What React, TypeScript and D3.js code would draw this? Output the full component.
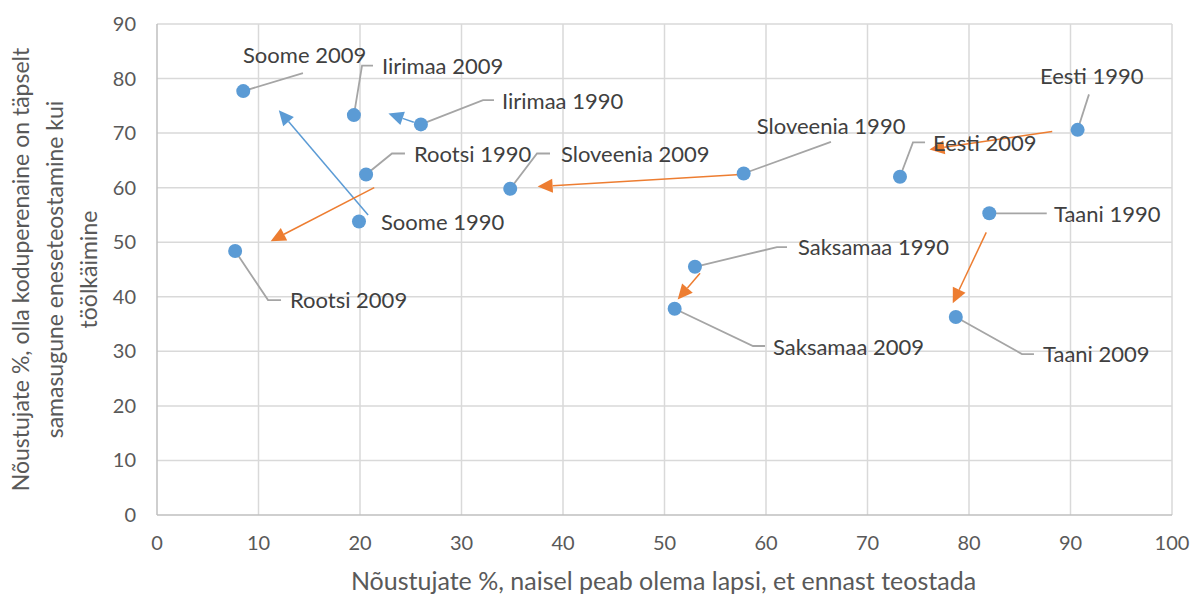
import React, { useEffect, useRef } from 'react'
import * as d3 from 'd3'

// data (x: % agree "woman needs children", y: % agree "housewife as fulfilling as work")
const pointLabels = ['Soome 2009','Iirimaa 2009','Iirimaa 1990','Rootsi 1990','Sloveenia 2009','Soome 1990','Rootsi 2009',
  'Sloveenia 1990','Eesti 2009','Eesti 1990','Taani 1990','Saksamaa 1990','Saksamaa 2009','Taani 2009']
const pointX = [8.5, 19.4, 26.0, 20.6, 34.8, 19.9, 7.7, 57.8, 73.2, 90.7, 82.0, 53.0, 51.0, 78.7]
const pointY = [77.7, 73.3, 71.6, 62.4, 59.8, 53.8, 48.4, 62.6, 62.0, 70.6, 55.3, 45.5, 37.8, 36.3]

// change arrows 1990 -> 2009 (drawn in chart units)
const arrowCountry = ['Soome','Iirimaa','Rootsi','Sloveenia','Eesti','Saksamaa','Taani']
const arrowFromX = [20.8, 25.3, 21.4, 57.5, 88.2, 53.5, 81.7]
const arrowFromY = [55.0, 72.0, 60.0, 62.4, 70.3, 44.3, 51.8]
const arrowToX = [12.0, 22.8, 11.2, 37.5, 76.1, 51.3, 78.4]
const arrowToY = [74.2, 73.6, 50.2, 60.2, 67.0, 39.5, 38.8]
const arrowKind = ['up','up','down','down','down','down','down']

const xTicks = [0,10,20,30,40,50,60,70,80,90,100]
const yTicks = [0,10,20,30,40,50,60,70,80,90]

// label placement in chart units: text anchor + leader elbows
const labelAt: [number, number][] = [
  [8.47,84.3],[22.17,82.3],[33.99,75.88],[25.32,66.17],[39.8,66.17],[22.07,53.7],[13.1,39.4],
  [59.1,71.3],[76.45,68.2],[87.0,80.5],[88.37,55.1],[63.15,49.1],[60.69,30.8],[87.29,29.5]
]
const leaders: [number, number][][] = [
  [[14.38,81.0]],
  [[20.2,82.36],[21.28,82.36]],
  [[32.12,76.06],[33.2,76.06]],
  [[23.15,66.26],[24.43,66.26]],
  [[37.44,66.26],[38.72,66.26]],
  [],
  [[10.94,39.4],[12.22,39.4]],
  [[66.4,68.4]],
  [[74.48,68.3],[75.67,68.3]],
  [[91.82,77.1]],
  [[87.66,55.3]],
  [[61.08,49.1],[62.07,49.1]],
  [[58.72,30.98],[59.9,30.98]],
  [[85.22,29.5],[86.4,29.5]]
]

export default function App(){
  const svgRef = useRef<SVGSVGElement>(null)

  useEffect(()=>{
    const width = 1190, height = 599
    const m = {top:24, right:18, bottom:84, left:157}
    const svg = d3.select(svgRef.current)
    svg.selectAll('*').remove()
    const font = 'Lato, "Open Sans", sans-serif'
    const textCol = '#595959'

    const x = d3.scaleLinear().domain([0,100]).range([m.left, width - m.right])
    const y = d3.scaleLinear().domain([0,90]).range([height - m.bottom, m.top])

    // grid
    const grid = svg.append('g')
    grid.selectAll('line.h').data(yTicks.filter(d=>d>0)).join('line')
      .attr('x1', x(0)).attr('x2', x(100)).attr('y1', d=>y(d)).attr('y2', d=>y(d))
      .attr('stroke','#d9d9d9').attr('stroke-width',1.5)
    grid.selectAll('line.v').data(xTicks.filter(d=>d>0)).join('line')
      .attr('y1', y(0)).attr('y2', y(90)).attr('x1', d=>x(d)).attr('x2', d=>x(d))
      .attr('stroke','#d9d9d9').attr('stroke-width',1.5)
    // axis lines
    svg.append('line').attr('x1',x(0)).attr('x2',x(100)).attr('y1',y(0)).attr('y2',y(0))
      .attr('stroke','#bfbfbf').attr('stroke-width',1.5)
    svg.append('line').attr('x1',x(0)).attr('x2',x(0)).attr('y1',y(0)).attr('y2',y(90))
      .attr('stroke','#bfbfbf').attr('stroke-width',1.5)

    // tick labels
    svg.append('g').selectAll('text').data(xTicks).join('text')
      .attr('x', d=>x(d)).attr('y', y(0) + 35)
      .attr('text-anchor','middle').attr('font-family',font).attr('font-size',20).attr('fill',textCol)
      .text(d=>d)
    svg.append('g').selectAll('text').data(yTicks).join('text')
      .attr('x', x(0) - 21).attr('y', d=>y(d)).attr('dy','0.35em')
      .attr('text-anchor','end').attr('font-family',font).attr('font-size',20).attr('fill',textCol)
      .text(d=>d)

    // axis titles
    svg.append('text')
      .attr('x', 663.5).attr('y', 590)
      .attr('text-anchor','middle').attr('font-family',font).attr('font-size',25).attr('fill',textCol)
      .text('Nõustujate %, naisel peab olema lapsi, et ennast teostada')
    const yt = svg.append('text')
      .attr('transform',`translate(0,${(y(0)+y(90))/2}) rotate(-90)`)
      .attr('text-anchor','middle').attr('font-family',font).attr('font-size',23).attr('fill',textCol)
    ;['Nõustujate %, olla koduperenaine on täpselt','samasugune eneseteostamine kui','töölkäimine']
      .forEach((t,i)=>yt.append('tspan').attr('x',0).attr('y', 29 + i*34).text(t))

    // arrows
    const arr = svg.append('g')
    arrowCountry.forEach((c,i)=>{
      const col = arrowKind[i]==='up' ? '#5b9bd5' : '#ed7d31'
      const x1 = x(arrowFromX[i]), y1 = y(arrowFromY[i]), x2 = x(arrowToX[i]), y2 = y(arrowToY[i])
      const ang = Math.atan2(y2-y1, x2-x1)
      const len = 15, hw = 7
      const bx = x2 - len*Math.cos(ang), by = y2 - len*Math.sin(ang)
      arr.append('line').attr('x1',x1).attr('y1',y1).attr('x2',bx).attr('y2',by)
        .attr('stroke',col).attr('stroke-width',1.5)
      const p = d3.path()
      p.moveTo(x2,y2)
      p.lineTo(bx + hw*Math.sin(ang), by - hw*Math.cos(ang))
      p.lineTo(bx - hw*Math.sin(ang), by + hw*Math.cos(ang))
      p.closePath()
      arr.append('path').attr('d',p.toString()).attr('fill',col)
    })

    // leader lines
    const lead = svg.append('g')
    pointLabels.forEach((_,i)=>{
      if(!leaders[i].length) return
      const pts: [number,number][] = [[x(pointX[i]), y(pointY[i])], ...leaders[i].map(([a,b])=>[x(a),y(b)] as [number,number])]
      lead.append('path').attr('d', d3.line()(pts)).attr('fill','none')
        .attr('stroke','#a5a5a5').attr('stroke-width',1.8)
    })

    // points
    svg.append('g').selectAll('circle').data(pointLabels).join('circle')
      .attr('cx', (_,i)=>x(pointX[i])).attr('cy', (_,i)=>y(pointY[i])).attr('r', 7)
      .attr('fill','#5b9bd5')

    // labels
    svg.append('g').selectAll('text').data(pointLabels).join('text')
      .attr('x', (_,i)=>x(labelAt[i][0])).attr('y', (_,i)=>y(labelAt[i][1])).attr('dy','0.35em')
      .attr('font-family',font).attr('font-size',22).attr('fill','#404040')
      .text(d=>d)
  },[])

  return (
    <svg ref={svgRef} width={1190} height={599}
      style={{position:'absolute', left:0, top:0, background:'#fff'}} />
  )
}
